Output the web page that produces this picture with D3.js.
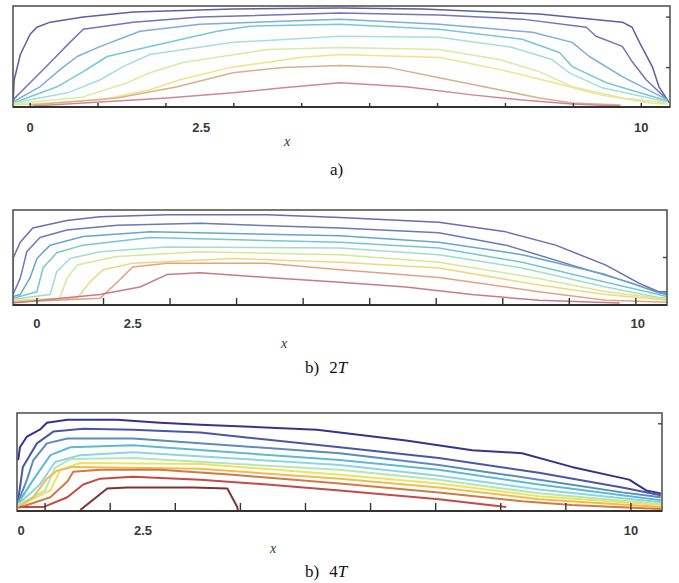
<!DOCTYPE html>
<html>
<head>
<meta charset="utf-8">
<script src="https://cdn.jsdelivr.net/npm/d3@7"></script>
<style>
  body { margin: 0; background: #fff; }
  svg { display: block; }
</style>
</head>
<body>
<div id="chart"></div>
<script>
// tick marks along the bottom edge (9 intervals between 0 and 10)
const xTickValues = d3.range(10).map((i) => (i * 10) / 9);

// tick labels for each panel
const tickTextA = ["0", "2.5", "10"];
const tickPosA = [0, 2.8, 10];
const tickTextB = ["0", "2.5", "10"];
const tickPosB = [0, 1.6, 10.03];
const tickTextC = ["0", "2.5", "10"];
const tickPosC = [-0.41, 1.67, 10];

// small marks on the right edge
const yTicksA = [0.39, 0.89];
const yTicksB = [0.5];
const yTicksC = [0.89];

// contour levels, panel a) — [x, level height]
const contoursA = [
  [[-0.28,0.02],[-0.26,0.27],[-0.16,0.52],[0,0.72],[0.11,0.79],[0.33,0.84],[0.87,0.89],[1.69,0.94],[3.32,0.97],[5.07,0.98],[6.42,0.97],[8.33,0.92],[9.69,0.84],[9.85,0.79],[9.97,0.64],[10.18,0.40],[10.29,0.20],[10.46,0.04]],
  [[-0.28,0.07],[0,0.24],[0.33,0.44],[0.65,0.64],[0.87,0.77],[1.69,0.84],[2.78,0.89],[5.07,0.93],[6.69,0.91],[8.05,0.87],[9.10,0.79],[9.26,0.70],[9.69,0.60],[9.85,0.45],[10.08,0.27],[10.43,0.07]],
  [[-0.28,0.05],[0.16,0.20],[0.49,0.37],[0.77,0.50],[1.15,0.60],[1.80,0.75],[2.78,0.82],[5.07,0.87],[6.69,0.82],[8.22,0.74],[8.87,0.64],[9.15,0.50],[9.69,0.30],[10.43,0.07]],
  [[-0.28,0.04],[0.44,0.20],[0.87,0.35],[1.26,0.50],[1.96,0.60],[3.06,0.75],[3.60,0.80],[5.07,0.82],[6.69,0.77],[8.05,0.67],[8.66,0.54],[8.87,0.40],[9.43,0.24],[10.43,0.06]],
  [[-0.28,0.04],[0.61,0.14],[1.15,0.27],[1.52,0.40],[1.96,0.52],[3.32,0.64],[5.07,0.70],[6.69,0.69],[7.89,0.59],[8.54,0.47],[8.82,0.34],[9.36,0.19],[10.43,0.05]],
  [[-0.28,0.03],[0.87,0.10],[1.59,0.24],[1.96,0.34],[2.50,0.44],[3.88,0.57],[5.07,0.59],[6.69,0.57],[7.68,0.47],[8.33,0.35],[8.87,0.20],[9.69,0.09],[10.43,0.04]],
  [[-0.28,0.02],[1.15,0.07],[1.96,0.17],[2.45,0.27],[3.27,0.39],[4.42,0.49],[5.07,0.52],[6.71,0.49],[7.69,0.37],[8.51,0.25],[9.33,0.12],[10.15,0.04],[10.43,0.03]],
  [[0,0.02],[1.42,0.09],[2.41,0.20],[3.32,0.34],[4.14,0.39],[5.07,0.41],[5.88,0.39],[6.69,0.29],[7.51,0.19],[8.33,0.09],[8.87,0.04],[9.66,0.02]],
  [[0.05,0.01],[2.24,0.09],[3.32,0.14],[4.14,0.19],[5.07,0.24],[6.15,0.20],[7.23,0.12],[8.05,0.07],[8.87,0.03],[9.66,0.01]]
];
const colorsA = ["#5e5ea2", "#7474b6", "#7eaed8", "#74c8d8", "#a6dfd6", "#d6eca2", "#f2e288", "#d9b08e", "#cf8698"];

// contour levels, panel b) 2T
const contoursB = [
  [[-0.40,0.16],[-0.40,0.49],[-0.28,0.66],[-0.07,0.81],[0.50,0.89],[1.05,0.93],[2.17,0.95],[3.84,0.95],[5.06,0.92],[6.71,0.87],[7.83,0.77],[8.66,0.63],[9.50,0.42],[10.05,0.23],[10.38,0.14],[10.52,0.14]],
  [[-0.40,0.11],[-0.28,0.28],[-0.17,0.56],[0.05,0.71],[0.50,0.79],[1.34,0.84],[2.72,0.86],[5.06,0.81],[6.71,0.76],[7.83,0.63],[8.93,0.42],[9.93,0.23],[10.38,0.13],[10.52,0.12]],
  [[-0.40,0.09],[-0.28,0.11],[-0.12,0.28],[0,0.49],[0.22,0.63],[0.77,0.72],[1.89,0.77],[5.06,0.73],[6.71,0.66],[8.10,0.53],[9.50,0.32],[10.38,0.13],[10.52,0.11]],
  [[-0.40,0.07],[0,0.14],[0.10,0.39],[0.33,0.55],[0.77,0.63],[1.89,0.71],[5.06,0.66],[6.71,0.60],[8.10,0.45],[9.50,0.24],[10.38,0.11],[10.52,0.09]],
  [[-0.40,0.06],[0.22,0.11],[0.33,0.35],[0.55,0.49],[1.05,0.56],[2.17,0.61],[5.06,0.60],[6.71,0.53],[8.10,0.39],[9.50,0.19],[10.38,0.08],[10.52,0.07]],
  [[-0.40,0.05],[0.38,0.07],[0.50,0.28],[0.67,0.42],[1.34,0.51],[2.72,0.56],[5.06,0.53],[6.71,0.45],[8.38,0.28],[9.50,0.14],[10.52,0.06]],
  [[-0.40,0.04],[0.67,0.07],[0.88,0.24],[1.10,0.37],[1.60,0.44],[3.27,0.49],[5.06,0.45],[6.71,0.39],[8.38,0.21],[9.50,0.11],[10.52,0.05]],
  [[-0.40,0.03],[1.05,0.07],[1.34,0.24],[1.60,0.40],[2.17,0.44],[3.84,0.44],[5.06,0.37],[6.71,0.29],[8.38,0.14],[9.50,0.05],[10.52,0.03]],
  [[-0.40,0.02],[1.05,0.11],[1.72,0.19],[2.17,0.32],[2.72,0.34],[3.84,0.29],[5.06,0.24],[6.16,0.19],[7.26,0.11],[8.38,0.05],[9.73,0.02]]
];
const colorsB = ["#6c6cae", "#6a78bc", "#64a6d0", "#72c8d2", "#a2dcca", "#d6e894", "#f0d87a", "#e0a482", "#c87a8a"];

// contour levels, panel b) 4T
const contoursC = [
  [[-0.46,0.52],[-0.43,0.65],[-0.31,0.76],[-0.09,0.83],[0.03,0.90],[0.38,0.93],[1.23,0.93],[1.96,0.90],[2.65,0.88],[3.50,0.86],[4.64,0.83],[5.03,0.80],[6.16,0.72],[7.29,0.62],[8.14,0.59],[8.99,0.45],[9.97,0.32],[10.26,0.21],[10.51,0.18]],
  [[-0.46,0.11],[-0.38,0.45],[-0.14,0.69],[0.14,0.81],[0.65,0.84],[1.50,0.83],[2.65,0.80],[5.03,0.65],[6.72,0.54],[8.43,0.39],[9.85,0.24],[10.51,0.16]],
  [[-0.46,0.09],[-0.31,0.32],[-0.20,0.52],[0.03,0.69],[0.38,0.74],[1.50,0.74],[5.03,0.59],[6.72,0.47],[8.43,0.32],[9.85,0.19],[10.51,0.14]],
  [[-0.46,0.08],[-0.20,0.32],[0.09,0.57],[0.43,0.65],[1.50,0.67],[5.03,0.52],[6.72,0.42],[8.43,0.27],[9.85,0.16],[10.51,0.11]],
  [[-0.46,0.07],[-0.09,0.27],[0.17,0.50],[0.60,0.57],[1.50,0.60],[5.03,0.47],[6.72,0.36],[8.43,0.22],[10.51,0.09]],
  [[-0.46,0.06],[0,0.21],[0.17,0.44],[0.43,0.53],[1.50,0.54],[5.03,0.42],[6.72,0.32],[8.43,0.18],[10.51,0.07]],
  [[-0.46,0.05],[0.09,0.21],[0.26,0.42],[0.60,0.49],[2.65,0.48],[5.03,0.37],[6.72,0.28],[8.43,0.15],[10.51,0.06]],
  [[-0.46,0.04],[-0.20,0.14],[0.03,0.33],[0.20,0.41],[0.48,0.45],[2.65,0.43],[5.03,0.33],[6.72,0.24],[8.43,0.12],[10.51,0.04]],
  [[-0.46,0.03],[0.09,0.14],[0.38,0.30],[0.48,0.40],[0.94,0.42],[1.96,0.42],[3.21,0.37],[5.03,0.28],[6.72,0.19],[8.14,0.10],[8.99,0.06],[10.51,0.02]],
  [[-0.43,0.04],[-0.03,0.04],[0.38,0.14],[0.65,0.27],[0.94,0.33],[1.50,0.35],[2.65,0.32],[3.79,0.27],[5.03,0.21],[6.72,0.12],[7.87,0.04]],
  [[0.60,0.01],[1.06,0.23],[1.40,0.24],[2.53,0.24],[3.11,0.23],[3.28,0.04],[3.29,0.01]]
];
const colorsC = ["#34348e", "#4a56a8", "#5a8cbc", "#5cbad2", "#8cd6e2", "#b6e6b4", "#ece45e", "#f0bc52", "#d27a46", "#c44a46", "#7e3434"];

// page layout
const W = 679, H = 583;
const svg = d3.select("#chart").append("svg").attr("width", W).attr("height", H);

const panels = [
  { id: "a", box: [13, 670, 6, 107], dom: [-0.28, 10.47], data: contoursA, colors: colorsA,
    lw: 1.5, tickLen: 4, labText: tickTextA, labPos: tickPosA, labY: 132, yTicks: yTicksA,
    xLab: [287, 146], cap: [330, 175], capSuffix: "" },
  { id: "b", box: [13, 667, 210, 305], dom: [-0.40, 10.52], data: contoursB, colors: colorsB,
    lw: 1.5, tickLen: 7, labText: tickTextB, labPos: tickPosB, labY: 328, yTicks: yTicksB,
    xLab: [284, 348], cap: [305, 373], capSuffix: "2T" },
  { id: "c", box: [17, 662, 413, 511], dom: [-0.48, 10.53], data: contoursC, colors: colorsC,
    lw: 2, tickLen: 8, labText: tickTextC, labPos: tickPosC, labY: 535, yTicks: yTicksC,
    xLab: [273, 553], cap: [305, 577], capSuffix: "4T" }
];

panels.forEach((p) => {
  const [x0, x1, y0, y1] = p.box;
  const x = d3.scaleLinear().domain(p.dom).range([x0, x1]);
  const y = d3.scaleLinear().domain([0, 1]).range([y1, y0]);
  const g = svg.append("g");

  g.append("clipPath").attr("id", "clip-" + p.id)
    .append("rect").attr("x", x0).attr("y", y0).attr("width", x1 - x0).attr("height", y1 - y0);

  const line = d3.line().x((d) => x(d[0])).y((d) => y(d[1]));

  // contour lines
  g.append("g").attr("clip-path", `url(#clip-${p.id})`)
    .selectAll("path").data(p.data).join("path")
    .attr("d", line)
    .attr("fill", "none")
    .attr("stroke", (d, i) => p.colors[i])
    .attr("stroke-width", p.lw)
    .attr("stroke-linejoin", "round");

  // frame
  g.append("rect").attr("x", x0).attr("y", y0).attr("width", x1 - x0).attr("height", y1 - y0)
    .attr("fill", "none").attr("stroke", "#555").attr("stroke-width", 1.6);
  g.append("line").attr("x1", x0).attr("x2", x1).attr("y1", y1).attr("y2", y1)
    .attr("stroke", "#333").attr("stroke-width", 2.2);

  // bottom ticks
  g.selectAll("line.xt").data(xTickValues).join("line").attr("class", "xt")
    .attr("x1", (d) => x(d)).attr("x2", (d) => x(d))
    .attr("y1", y1).attr("y2", y1 - p.tickLen)
    .attr("stroke", "#333").attr("stroke-width", 1.4);

  // right edge ticks
  g.selectAll("line.yt").data(p.yTicks).join("line").attr("class", "yt")
    .attr("x1", x1).attr("x2", x1 - 4)
    .attr("y1", (d) => y(d)).attr("y2", (d) => y(d))
    .attr("stroke", "#444").attr("stroke-width", 1.4);

  // tick labels
  g.selectAll("text.tl").data(p.labText).join("text").attr("class", "tl")
    .attr("x", (d, i) => x(p.labPos[i]))
    .attr("y", p.labY)
    .attr("text-anchor", "middle")
    .style("font-family", "'Liberation Sans', Arial, sans-serif")
    .style("font-weight", "bold")
    .style("font-size", "13px")
    .style("fill", "#3a3a3a")
    .text((d) => d);

  // axis name
  g.append("text").attr("x", p.xLab[0]).attr("y", p.xLab[1])
    .attr("text-anchor", "middle")
    .style("font-family", "'Liberation Serif', 'Times New Roman', serif")
    .style("font-style", "italic")
    .style("font-size", "14px")
    .style("fill", "#333")
    .text("x");

  // caption
  const cap = g.append("text").attr("x", p.cap[0]).attr("y", p.cap[1])
    .style("font-family", "'Liberation Serif', 'Times New Roman', serif")
    .style("font-size", "17px")
    .style("fill", "#111");
  cap.append("tspan").text(p.id === "a" ? "a)" : "b)");
  if (p.capSuffix) {
    cap.append("tspan").attr("dx", 10).text(p.capSuffix[0]);
    cap.append("tspan").style("font-style", "italic").text(p.capSuffix.slice(1));
  }
});
</script>
</body>
</html>
